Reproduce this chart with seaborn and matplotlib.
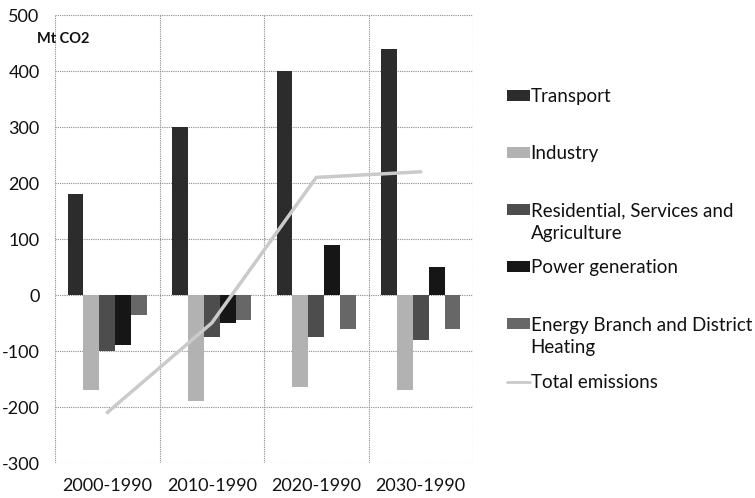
import numpy as np
import pandas as pd
import seaborn as sns
import matplotlib
matplotlib.use("Agg")
import matplotlib.pyplot as plt
from matplotlib.patches import Rectangle
from matplotlib.lines import Line2D
from matplotlib.legend_handler import HandlerPatch, HandlerLine2D
from matplotlib.font_manager import FontProperties
import matplotlib.transforms as mtransforms

# ---- data ----
periods = ["2000-1990", "2010-1990", "2020-1990", "2030-1990"]
sectors = ["Transport", "Industry", "Residential, Services and\nAgriculture",
           "Power generation", "Energy Branch and District\nHeating"]
transport = [180, 300, 400, 440]
industry = [-170, -190, -165, -170]
residential = [-100, -75, -75, -80]
power = [-90, -50, 90, 50]
energy = [-35, -45, -60, -60]
total = [-210, -50, 210, 220]
total_label = "Total emissions"
y_ticks = [-300, -200, -100, 0, 100, 200, 300, 400, 500]
unit_label = "Mt CO2"

colors = ["#2c2c2c", "#b2b2b2", "#4d4d4d", "#161616", "#676767"]
line_color = "#cacaca"

rows = []
for s, vals in zip(sectors, [transport, industry, residential, power, energy]):
    for p, v in zip(periods, vals):
        rows.append({"period": p, "sector": s, "value": v})
df = pd.DataFrame(rows)

sns.set_theme(style="white")
FONT = "Lato"
plt.rcParams["font.family"] = [FONT, "DejaVu Sans"]

DPI = 100
fig = plt.figure(figsize=(7.55, 4.98), dpi=DPI)
ax = fig.add_axes([55 / 755, 1 - 463 / 498, (473 - 55) / 755, (463 - 15) / 498])

sns.barplot(data=df, x="period", y="value", hue="sector", order=periods,
            hue_order=sectors, palette=colors, saturation=1, width=0.76,
            dodge=True, ax=ax, legend=False, linewidth=0)

sns.lineplot(x=np.arange(len(periods)), y=total, color=line_color, linewidth=2.5,
             ax=ax, zorder=5, legend=False)

ax.set_xlim(-0.5, len(periods) - 0.5)
ax.set_ylim(y_ticks[0], y_ticks[-1])
ax.set_yticks(y_ticks)
ax.set_yticklabels([str(t) for t in y_ticks])
ax.set_xticks(range(len(periods)))
ax.set_xticklabels(periods)
ax.set_xlabel("")
ax.set_ylabel("")

# grid: dotted gray, vertical lines at category boundaries
for t in y_ticks:
    ax.axhline(t, color="#8a8a8a", linestyle=(0, (1, 1)), linewidth=0.8, zorder=0)
for b in np.arange(len(periods) + 1) - 0.5:
    ax.axvline(b, color="#8a8a8a", linestyle=(0, (1, 1)), linewidth=0.8, zorder=0)
for sp in ax.spines.values():
    sp.set_visible(False)

ax.tick_params(axis="both", length=0, labelsize=13, colors="#111111")
ax.tick_params(axis="y", pad=11)
ax.tick_params(axis="x", pad=11)

trans = mtransforms.blended_transform_factory(ax.transAxes, ax.transData)
ax.text(-0.043, 458, unit_label, transform=trans, fontsize=10.5,
        fontweight="bold", ha="left", va="center", color="#111111")

# ---- legend ----
LEG_FS = 13.5
LINESP = 1.38
renderer = fig.canvas.get_renderer()
fp = FontProperties(family=FONT, size=LEG_FS)
lw_, lh_, ld_ = renderer.get_text_width_height_descent("lp", fp, ismath=False)
step_px = ld_ + (lh_ - ld_) * LINESP
shift_pt = 0.5 * (step_px + ld_) * 72 / DPI


class ShiftPatch(HandlerPatch):
    def __init__(self, shift, **kw):
        super().__init__(**kw)
        self.shift = shift

    def create_artists(self, legend, orig_handle, xdescent, ydescent, width,
                       height, fontsize, trans):
        p = Rectangle((-xdescent, -ydescent + self.shift), width, height)
        self.update_prop(p, orig_handle, legend)
        p.set_transform(trans)
        return [p]


class ShiftLine(HandlerLine2D):
    def __init__(self, shift, **kw):
        super().__init__(**kw)
        self.shift = shift

    def create_artists(self, *args, **kw):
        arts = super().create_artists(*args, **kw)
        for a in arts:
            a.set_ydata(np.asarray(a.get_ydata()) + self.shift)
        return arts


handles = [Rectangle((0, 0), 1, 1, facecolor=c, edgecolor="none") for c in colors]
handles.append(Line2D([0], [0], color=line_color, linewidth=2))
labels = []
for s in sectors + [total_label]:
    labels.append(s if "\n" in s else s + "\n")
hmap = {h: ShiftPatch(shift_pt) for h in handles[:-1]}
hmap[handles[-1]] = ShiftLine(shift_pt)

leg = fig.legend(handles, labels, handler_map=hmap, loc="upper left",
                 bbox_to_anchor=(507 / 755, 1 - 88 / 498), frameon=False,
                 fontsize=LEG_FS, handlelength=1.2, handleheight=0.54,
                 handletextpad=0.06, labelspacing=0.95, borderpad=0,
                 borderaxespad=0)
for t in leg.get_texts():
    t.set_linespacing(LINESP)
    t.set_color("#111111")

fig.savefig("out.png", dpi=DPI)
